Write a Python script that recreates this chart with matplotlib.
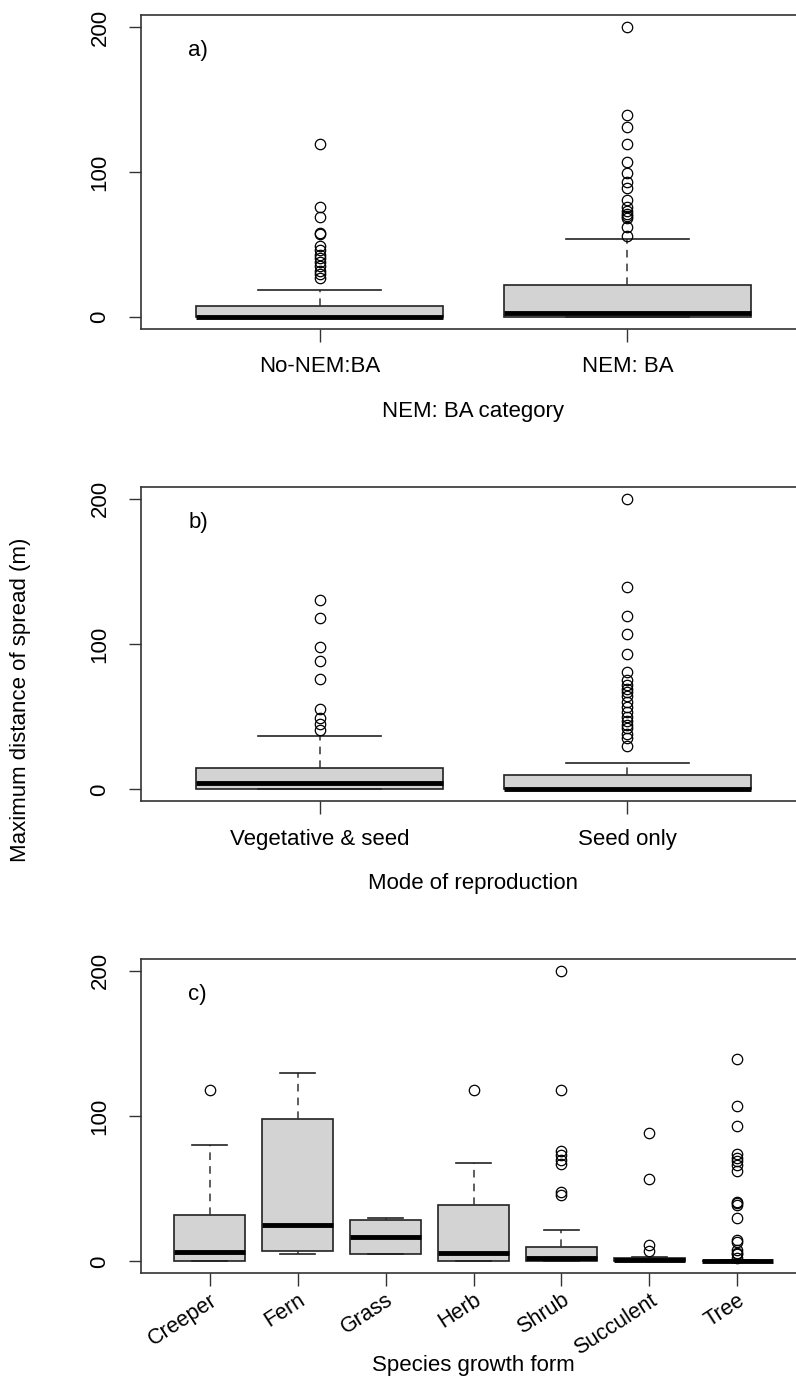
import matplotlib.pyplot as plt

plt.rcParams['font.family'] = ['Liberation Sans', 'DejaVu Sans']

# panel a) NEM: BA category
nem_labels = ['No-NEM:BA', 'NEM: BA']
nem_q1 = [0, 0]
nem_med = [0, 2.5]
nem_q3 = [7.8, 22]
nem_lo = [0, 0]
nem_hi = [18.6, 53.6]
nem_out = [
    [119, 76, 69, 58, 57, 49, 46, 43, 41, 38, 35, 32, 30, 27],
    [200, 139, 131, 119, 107, 99, 93, 89, 81, 76, 73, 71, 70, 68, 62, 56],
]

# panel b) mode of reproduction
rep_labels = ['Vegetative & seed', 'Seed only']
rep_q1 = [0, 0]
rep_med = [4.6, 0]
rep_q3 = [14.7, 9.7]
rep_lo = [0, 0]
rep_hi = [36.6, 18.4]
rep_out = [
    [130, 118, 98, 88, 76, 55, 49, 45, 41],
    [200, 139, 119, 107, 93, 81, 75, 72, 69, 67, 64, 60, 57, 53, 50,
     47, 44, 42, 38, 35, 30],
]

# panel c) species growth form
form_labels = ['Creeper', 'Fern', 'Grass', 'Herb', 'Shrub', 'Succulent', 'Tree']
form_q1 = [0, 6.9, 5.3, 0, 0, 0, 0]
form_med = [6.4, 25.3, 16.8, 5.7, 2.5, 0.7, 0]
form_q3 = [31.7, 97.7, 28.5, 38.6, 9.9, 2.3, 0.5]
form_lo = [0, 5.3, 5.3, 0, 0, 0, 0]
form_hi = [80, 129.9, 29.9, 68, 21.6, 3, 1]
form_out = [
    [118],
    [],
    [],
    [118],
    [200, 118, 76, 73, 70, 67, 48, 46],
    [88, 57, 11, 7],
    [139, 107, 93, 74, 71, 69, 66, 62, 41, 40, 39, 30, 15, 13, 8, 6, 5, 2],
]

W, H = 796, 1378
fig = plt.figure(figsize=(W / 100, H / 100), dpi=100)
FS = 16


def make_stats(labels, q1, med, q3, lo, hi, out):
    stats = []
    for i in range(len(labels)):
        stats.append({'label': labels[i], 'q1': q1[i], 'med': med[i], 'q3': q3[i],
                      'whislo': lo[i], 'whishi': hi[i], 'fliers': out[i]})
    return stats


def panel(top_px, bottom_px, stats, tag, xlabel, xlabel_y, rotate=False):
    ax = fig.add_axes([141 / W, 1 - bottom_px / H, 665 / W, (bottom_px - top_px) / H])
    n = len(stats)
    ax.bxp(stats, positions=range(1, n + 1), widths=0.8, patch_artist=True,
           boxprops=dict(facecolor='#d3d3d3', edgecolor='#222222', linewidth=1.2),
           medianprops=dict(color='black', linewidth=3.5, solid_capstyle='butt'),
           whiskerprops=dict(color='#333333', linewidth=1.1, linestyle=(0, (5, 4))),
           capprops=dict(color='#222222', linewidth=1.2),
           flierprops=dict(marker='o', markersize=7.5, markerfacecolor='none',
                           markeredgecolor='black', markeredgewidth=0.9),
           capwidths=0.4)
    # R-style 4% padding around 0.5 .. n+0.5
    pad = 0.04 * n
    ax.set_xlim(0.5 - pad, n + 0.5 + pad)
    ax.set_ylim(-8, 208)
    ax.set_yticks([0, 100, 200])
    ax.set_yticklabels(['0', '100', '200'], rotation=90, va='center', fontsize=FS)
    ax.tick_params(axis='both', length=9, width=1, color='#333333', direction='out')
    ax.tick_params(axis='y', pad=13)
    ax.set_xticks(range(1, n + 1))
    if rotate:
        ax.set_xticklabels([s['label'] for s in stats], rotation=33, ha='right',
                           rotation_mode='anchor', fontsize=FS - 0.5)
        ax.tick_params(axis='x', pad=3)
    else:
        ax.set_xticklabels([s['label'] for s in stats], fontsize=FS)
        ax.tick_params(axis='x', pad=11)
    for sp in ax.spines.values():
        sp.set_linewidth(1.2)
        sp.set_color('#333333')
    ax.text(0.071, 0.887, tag, transform=ax.transAxes, fontsize=FS,
            ha='left', va='center')
    fig.text(473 / W, 1 - xlabel_y / H, xlabel, ha='center', va='center', fontsize=FS)
    return ax


panel(15.4, 328.6, make_stats(nem_labels, nem_q1, nem_med, nem_q3, nem_lo, nem_hi, nem_out),
      'a)', 'NEM: BA category', 412)
panel(487, 801, make_stats(rep_labels, rep_q1, rep_med, rep_q3, rep_lo, rep_hi, rep_out),
      'b)', 'Mode of reproduction', 884)
panel(959, 1273, make_stats(form_labels, form_q1, form_med, form_q3, form_lo, form_hi, form_out),
      'c)', 'Species growth form', 1366, rotate=True)

fig.text(21 / W, 1 - 700 / H, 'Maximum distance of spread (m)', rotation=90,
         ha='center', va='center', fontsize=FS)

fig.savefig('out.png', dpi=100, facecolor='white')
